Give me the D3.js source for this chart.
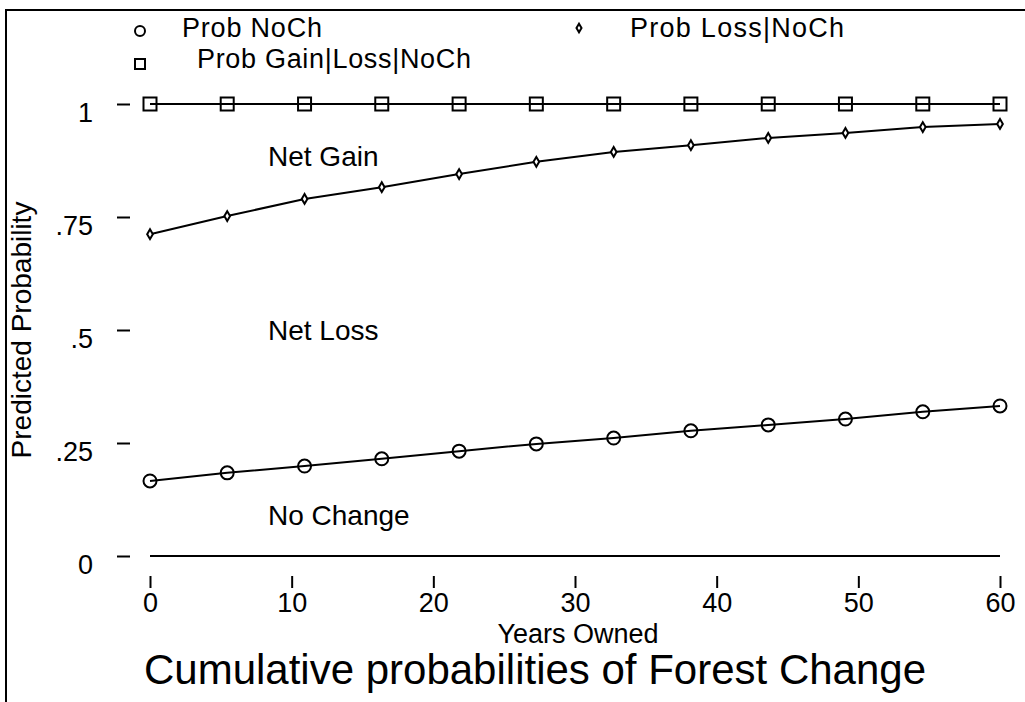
<!DOCTYPE html>
<html>
<head>
<meta charset="utf-8">
<script src="https://cdn.jsdelivr.net/npm/d3@7"></script>
<style>
  body { margin: 0; background: #fff; }
  svg text { font-family: "Liberation Sans", Arial, sans-serif; fill: #000; }
</style>
</head>
<body>
<div id="chart"></div>
<script>
// data
const years      = [0, 5.45, 10.91, 16.36, 21.82, 27.27, 32.73, 38.18, 43.64, 49.09, 54.55, 60]
const probNoCh   = [0.166, 0.184, 0.199, 0.215, 0.232, 0.248, 0.261, 0.277, 0.290, 0.303, 0.319, 0.332]
const probLoss   = [0.712, 0.752, 0.790, 0.816, 0.845, 0.872, 0.894, 0.909, 0.925, 0.936, 0.949, 0.956]
const probGain   = [1, 1, 1, 1, 1, 1, 1, 1, 1, 1, 1, 1]
const baseline   = [0, 0]
const baseYears  = [0, 60]
const xTicks     = [0, 10, 20, 30, 40, 50, 60]
const yTicks     = [0, 0.25, 0.5, 0.75, 1]
const yTickText  = ["0", ".25", ".5", ".75", "1"]
const regionText = [
  {label: "Net Gain",  y: 0.885},
  {label: "Net Loss",  y: 0.50},
  {label: "No Change", y: 0.091}
]

const width = 1025,
      height = 702

const svg = d3.select("#chart").append("svg")
  .attr("width", width)
  .attr("height", height)

// outer frame (only top and left edges show)
svg.append("rect")
  .attr("x", 6).attr("y", 10)
  .attr("width", 1100).attr("height", 800)
  .attr("fill", "none")
  .attr("stroke", "#000")
  .attr("stroke-width", 2)

const x = d3.scaleLinear().domain([0, 60]).range([150, 1000])
const y = d3.scaleLinear().domain([0, 1]).range([556, 104])

// y axis: short dashes away from the plot, labels further left
const yAxis = d3.axisLeft(y)
  .tickValues(yTicks)
  .tickSize(13)
  .tickPadding(24)
  .tickFormat((d, i) => yTickText[i])

const gy = svg.append("g")
  .attr("transform", "translate(130,0)")
  .call(yAxis)
gy.select(".domain").remove()
gy.selectAll(".tick line").attr("stroke", "#000").attr("stroke-width", 2)
gy.selectAll(".tick text")
  .style("font-size", "27px")
  .attr("dy", "0.98em")
  .attr("y", -9)

// x axis
const xAxis = d3.axisBottom(x)
  .tickValues(xTicks)
  .tickSize(12)
  .tickPadding(5)

const gx = svg.append("g")
  .attr("transform", "translate(0,576)")
  .call(xAxis)
gx.select(".domain").remove()
gx.selectAll(".tick line").attr("stroke", "#000").attr("stroke-width", 2)
gx.selectAll(".tick text").style("font-size", "27px")

// lines
const line = d3.line()
  .x(d => x(d[0]))
  .y(d => y(d[1]))

const series = [probNoCh, probLoss, probGain]
series.forEach(vals => {
  svg.append("path")
    .datum(years.map((yr, i) => [yr, vals[i]]))
    .attr("d", line)
    .attr("fill", "none")
    .attr("stroke", "#000")
    .attr("stroke-width", 2)
})

svg.append("path")
  .datum(baseYears.map((yr, i) => [yr, baseline[i]]))
  .attr("d", line)
  .attr("fill", "none")
  .attr("stroke", "#000")
  .attr("stroke-width", 2)

// markers
svg.append("g").selectAll("circle")
  .data(years)
  .join("circle")
  .attr("cx", d => x(d))
  .attr("cy", (d, i) => y(probNoCh[i]))
  .attr("r", 6.5)
  .attr("fill", "none")
  .attr("stroke", "#000")
  .attr("stroke-width", 2)

const diamond = d3.symbol().type(d3.symbolDiamond).size(28)
svg.append("g").selectAll("path")
  .data(years)
  .join("path")
  .attr("d", diamond)
  .attr("transform", (d, i) => `translate(${x(d)},${y(probLoss[i])})`)
  .attr("fill", "#fff")
  .attr("stroke", "#000")
  .attr("stroke-width", 2)

svg.append("g").selectAll("rect")
  .data(years)
  .join("rect")
  .attr("x", d => x(d) - 6.5)
  .attr("y", (d, i) => y(probGain[i]) - 6.5)
  .attr("width", 13)
  .attr("height", 13)
  .attr("fill", "none")
  .attr("stroke", "#000")
  .attr("stroke-width", 2)

// region labels
svg.append("g").selectAll("text")
  .data(regionText)
  .join("text")
  .attr("x", 268)
  .attr("y", d => y(d.y) + 10)
  .style("font-size", "28px")
  .text(d => d.label)

// legend
const legend = svg.append("g")
legend.append("circle")
  .attr("cx", 140).attr("cy", 31).attr("r", 5)
  .attr("fill", "none").attr("stroke", "#000").attr("stroke-width", 2)
legend.append("text")
  .attr("x", 182).attr("y", 37)
  .attr("textLength", 140)
  .style("font-size", "27px")
  .text("Prob NoCh")
legend.append("path")
  .attr("d", d3.symbol().type(d3.symbolDiamond).size(22))
  .attr("transform", "translate(579,28)")
  .attr("fill", "#fff").attr("stroke", "#000").attr("stroke-width", 2)
legend.append("text")
  .attr("x", 630).attr("y", 37)
  .attr("textLength", 214)
  .style("font-size", "27px")
  .text("Prob Loss|NoCh")
legend.append("rect")
  .attr("x", 135).attr("y", 59).attr("width", 10).attr("height", 10)
  .attr("fill", "none").attr("stroke", "#000").attr("stroke-width", 2)
legend.append("text")
  .attr("x", 197).attr("y", 68)
  .attr("textLength", 274)
  .style("font-size", "27px")
  .text("Prob Gain|Loss|NoCh")

// axis titles
svg.append("text")
  .attr("transform", "translate(31,330) rotate(-90)")
  .attr("text-anchor", "middle")
  .style("font-size", "28px")
  .text("Predicted Probability")

svg.append("text")
  .attr("x", 578).attr("y", 643)
  .attr("text-anchor", "middle")
  .style("font-size", "27px")
  .text("Years Owned")

svg.append("text")
  .attr("x", 535).attr("y", 684)
  .attr("text-anchor", "middle")
  .style("font-size", "42px")
  .text("Cumulative probabilities of Forest Change")
</script>
</body>
</html>
